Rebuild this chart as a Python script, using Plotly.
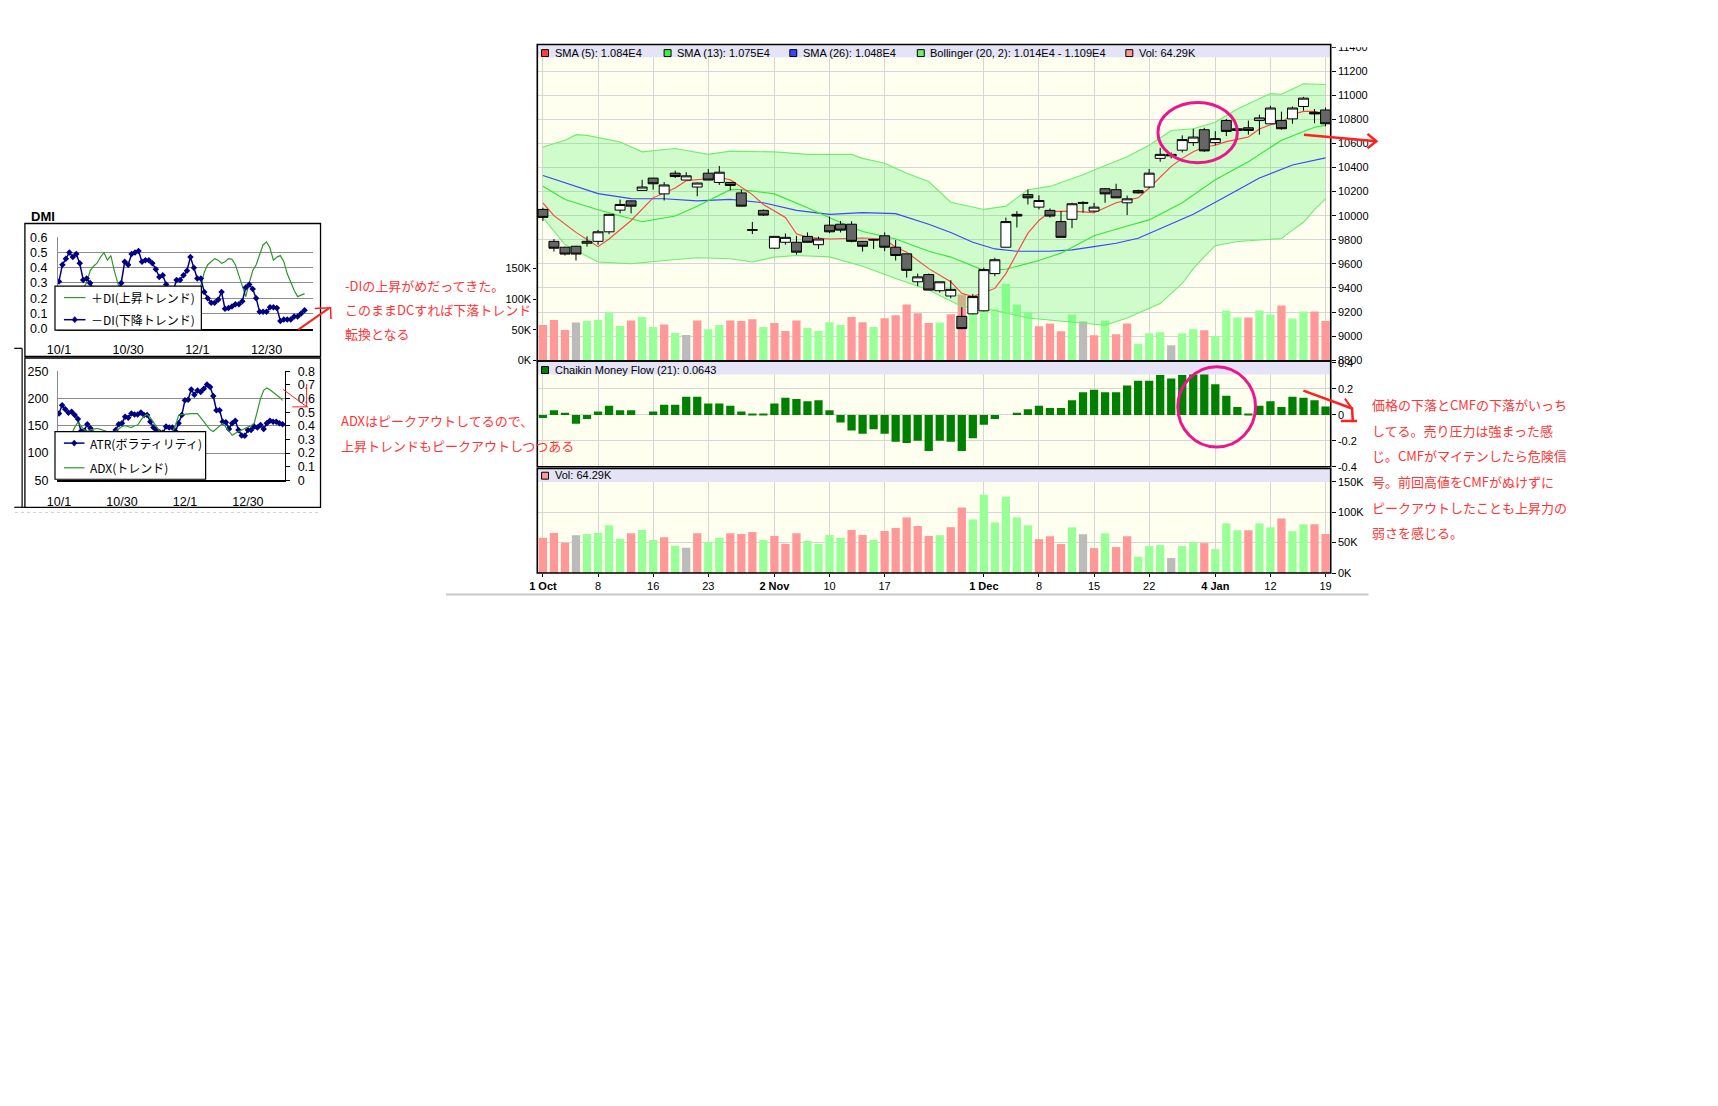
import plotly.graph_objects as go

W, H = 1718, 1106


def px(x):
    return x / W


def py(y):
    return 1 - y / H


# ---------------- data ----------------
dates = ["2009-10-01", "2009-10-02", "2009-10-05", "2009-10-06", "2009-10-07", "2009-10-08", "2009-10-09",
         "2009-10-13", "2009-10-14", "2009-10-15", "2009-10-16", "2009-10-19", "2009-10-20", "2009-10-21",
         "2009-10-22", "2009-10-23", "2009-10-26", "2009-10-27", "2009-10-28", "2009-10-29", "2009-10-30",
         "2009-11-02", "2009-11-04", "2009-11-05", "2009-11-06", "2009-11-09", "2009-11-10", "2009-11-11",
         "2009-11-12", "2009-11-13", "2009-11-16", "2009-11-17", "2009-11-18", "2009-11-19", "2009-11-20",
         "2009-11-24", "2009-11-25", "2009-11-26", "2009-11-27", "2009-11-30",
         "2009-12-01", "2009-12-02", "2009-12-03", "2009-12-04", "2009-12-07", "2009-12-08", "2009-12-09",
         "2009-12-10", "2009-12-11", "2009-12-14", "2009-12-15", "2009-12-16", "2009-12-17", "2009-12-18",
         "2009-12-21", "2009-12-22", "2009-12-24", "2009-12-25", "2009-12-28", "2009-12-29", "2009-12-30",
         "2010-01-04", "2010-01-05", "2010-01-06", "2010-01-07", "2010-01-08", "2010-01-12", "2010-01-13",
         "2010-01-14", "2010-01-15", "2010-01-18", "2010-01-19"]

opens = [10052, 9787, 9738, 9746, 9771, 9787, 9866, 10046, 10123, 10210,
         10312, 10181, 10353, 10296, 10238, 10353, 10276, 10276, 10189, 9884,
         10044, 9730, 9779, 9779, 9828, 9759, 9921, 9929, 9929, 9787,
         9802, 9833, 9738, 9683, 9451, 9511, 9377, 9333, 9164, 9185,
         9210, 9519, 9738, 10011, 10175, 10071, 10044, 9951, 9970, 10110,
         10038, 10224, 10216, 10107, 10208, 10238, 10476, 10509, 10544, 10607,
         10714, 10607, 10790, 10722, 10730, 10790, 10763, 10790, 10804, 10907,
         10858, 10878]
highs = [10066, 9806, 9743, 9750, 9828, 9882, 10011, 10134, 10125, 10298,
         10314, 10279, 10374, 10361, 10275, 10388, 10413, 10278, 10216, 9948,
         10052, 9828, 9853, 9833, 9861, 9825, 9992, 9956, 9954, 9790,
         9806, 9861, 9798, 9683, 9519, 9519, 9451, 9464, 9240, 9349,
         9568, 9650, 9984, 10038, 10216, 10169, 10060, 10038, 10107, 10120,
         10107, 10230, 10265, 10167, 10216, 10388, 10563, 10525, 10667, 10722,
         10730, 10702, 10804, 10730, 10790, 10839, 10913, 10864, 10907, 10987,
         10886, 10899]
lows = [9956, 9702, 9669, 9628, 9743, 9760, 9847, 10019, 10019, 10210,
        10216, 10126, 10312, 10296, 10161, 10296, 10255, 10210, 10077, 9847,
        9997, 9722, 9759, 9677, 9779, 9724, 9855, 9861, 9779, 9702,
        9724, 9705, 9628, 9486, 9415, 9382, 9361, 9314, 9058, 9180,
        9205, 9497, 9738, 9902, 10093, 10052, 9984, 9820, 9896, 10025,
        10030, 10107, 10148, 10005, 10184, 10230, 10448, 10476, 10525, 10579,
        10530, 10585, 10661, 10700, 10673, 10673, 10763, 10714, 10763, 10872,
        10768, 10743]
closes = [9986, 9730, 9681, 9681, 9787, 9866, 10011, 10093, 10079, 10238,
          10265, 10255, 10325, 10331, 10271, 10296, 10361, 10251, 10079, 9880,
          10005, 9828, 9820, 9697, 9779, 9806, 9866, 9880, 9787, 9746,
          9798, 9738, 9669, 9546, 9492, 9382, 9451, 9388, 9062, 9328,
          9552, 9634, 9951, 9997, 10148, 10126, 9997, 9820, 10099, 10104,
          10071, 10181, 10148, 10140, 10189, 10353, 10509, 10497, 10632, 10653,
          10538, 10640, 10700, 10708, 10708, 10812, 10894, 10722, 10894, 10976,
          10845, 10763]

volume_k = [57.8, 65.9, 49.7, 62.2, 64.3, 65.9, 78.4, 56.2, 65.4, 70.8,
            54.5, 58.9, 44.8, 41.5, 65.4, 50.8, 57.8, 65.4, 64.3, 67.5,
            54.5, 61.0, 48.0, 65.4, 52.9, 48.0, 62.6, 57.8, 70.8, 62.6,
            54.5, 69.1, 74.0, 91.4, 77.3, 61.0, 62.2, 75.4, 107.6, 88.1,
            128.7, 83.3, 125.5, 91.4, 78.4, 55.7, 60.5, 47.6, 75.1, 63.8,
            41.0, 65.4, 42.7, 60.5, 26.9, 44.3, 45.9, 24.8, 44.3, 50.8,
            49.2, 39.4, 81.6, 70.3, 70.3, 81.6, 75.1, 89.8, 68.7, 80.0,
            80.0, 64.29]
# u = up day, d = down day, f = unchanged
volume_dir = list("dddfuuuuduuduf" "duuddd" "udddu" "uuudduddddd" "uddu" "uuuuu" "dddufdudduuufuudu"
                  "uuduudu" "udd")

cmf = [-0.024, 0.035, 0.017, -0.067, -0.032, 0.026, 0.070, 0.035, 0.035, 0.0,
       0.026, 0.078, 0.078, 0.140, 0.140, 0.088, 0.088, 0.070, 0.026, 0.008,
       0.008, 0.088, 0.131, 0.123, 0.105, 0.113, 0.035, -0.059, -0.119, -0.145,
       -0.110, -0.145, -0.207, -0.215, -0.198, -0.277, -0.198, -0.207, -0.277, -0.180,
       -0.075, -0.032, 0.0, 0.017, 0.043, 0.070, 0.053, 0.053, 0.113, 0.175,
       0.193, 0.175, 0.175, 0.227, 0.262, 0.262, 0.306, 0.279, 0.306, 0.384,
       0.314, 0.236, 0.148, 0.061, 0.008, 0.070, 0.105, 0.061, 0.140, 0.131,
       0.113, 0.0643]

sma5_idx = [0, 1, 3, 5, 6, 8, 10, 12, 13, 16, 17, 19, 20, 22, 23, 24, 26, 29, 31, 32,
            33, 35, 37, 38, 39, 41, 42, 44, 45, 46, 48, 50, 52, 54, 55, 56, 57, 58, 59, 60,
            61, 62, 64, 65, 66, 67, 68, 69, 70, 71]
sma5_val = [10107, 10000, 9861, 9743, 9806, 9960, 10148, 10230, 10290, 10317, 10298, 10175, 10093, 9985, 9850,
            9820, 9806, 9815, 9806, 9738, 9697, 9560, 9451, 9355, 9328, 9396, 9519, 9855, 9960, 10035,
            10038, 10025, 10107, 10148, 10230, 10320, 10410, 10476, 10530, 10570, 10585, 10615, 10653, 10720,
            10755, 10776, 10840, 10866, 10866, 10840]
sma13_idx = [0, 2, 5, 9, 12, 14, 17, 18, 21, 24, 27, 29, 32, 35, 37, 39, 40, 42, 45, 47,
             50, 53, 55, 58, 61, 64, 67, 70, 71]
sma13_val = [10245, 10134, 10050, 9950, 9997, 10079, 10216, 10216, 10181, 10066, 9943, 9869, 9806, 9705,
             9656, 9587, 9546, 9555, 9628, 9689, 9833, 9915, 9965, 10107, 10298, 10448, 10626, 10735, 10750]
sma26_idx = [0, 2, 5, 8, 11, 14, 17, 20, 23, 26, 29, 32, 35, 37, 39, 41, 43, 46, 48, 50,
             52, 54, 56, 59, 62, 65, 68, 71]
sma26_val = [10333, 10271, 10183, 10142, 10140, 10123, 10135, 10107, 10044, 10011, 10025, 10017, 9929, 9861,
             9779, 9724, 9705, 9705, 9716, 9743, 9771, 9812, 9890, 10011, 10161, 10312, 10421, 10480]
bb_up_idx = [0, 2, 3, 4, 7, 9, 12, 15, 17, 21, 24, 28, 29, 31, 32, 33, 35, 37, 40, 42,
             44, 46, 49, 50, 53, 55, 57, 59, 61, 63, 66, 67, 69, 71]
bb_up_val = [10571, 10626, 10673, 10667, 10612, 10530, 10558, 10509, 10536, 10530, 10509, 10509, 10476,
             10435, 10394, 10353, 10284, 10112, 10052, 10079, 10216, 10243, 10339, 10380, 10489, 10585,
             10708, 10722, 10776, 10886, 11014, 11009, 11096, 11090]
bb_lo_idx = [0, 2, 5, 8, 11, 14, 17, 19, 21, 23, 26, 29, 32, 35, 38, 41, 44, 47, 51, 53,
             56, 58, 59, 60, 61, 63, 65, 67, 68, 69, 70, 71]
bb_lo_val = [9984, 9760, 9615, 9601, 9628, 9650, 9642, 9615, 9656, 9669, 9658, 9580, 9478, 9382, 9246,
             9213, 9150, 9123, 9090, 9150, 9270, 9437, 9560, 9660, 9751, 9785, 9800, 9810, 9880, 9945,
             10050, 10140]

tick_idx = [0, 5, 10, 15, 21, 26, 31, 40, 45, 50, 55, 61, 66, 71]
tick_text = ["<b>1 Oct</b>", "8", "16", "23", "<b>2 Nov</b>", "10", "17", "<b>1 Dec</b>", "8", "15", "22",
             "<b>4 Jan</b>", "12", "19"]
price_ticks = [8800, 9000, 9200, 9400, 9600, 9800, 10000, 10200, 10400, 10600, 10800, 11000, 11200, 11400]
vol_ticks = [0, 50, 100, 150]
cmf_ticks = [-0.4, -0.2, 0, 0.2, 0.4]

# DMI / ATR / ADX small charts (pasted spreadsheet charts)
dmi_ticks = [0, 20, 40, 60]
dmi_tick_text = ["10/1", "10/30", "12/1", "12/30"]
plus_di = [0.20, 0.18, 0.15, 0.14, 0.16, 0.18, 0.22, 0.27, 0.30, 0.38,
           0.41, 0.43, 0.47, 0.50, 0.45, 0.48, 0.38, 0.29, 0.22, 0.18,
           0.16, 0.14, 0.12, 0.11, 0.12, 0.13, 0.15, 0.17, 0.20, 0.22,
           0.24, 0.26, 0.22, 0.20, 0.18, 0.17, 0.15, 0.14, 0.16, 0.20,
           0.24, 0.28, 0.37, 0.42, 0.44, 0.46, 0.45, 0.43, 0.44, 0.46,
           0.455, 0.42, 0.35, 0.28, 0.21, 0.30, 0.38, 0.42, 0.48, 0.55,
           0.57, 0.53, 0.45, 0.47, 0.48, 0.44, 0.36, 0.30, 0.25, 0.21,
           0.22, 0.23]
minus_di = [0.31, 0.42, 0.46, 0.50, 0.47, 0.49, 0.43, 0.32, 0.33, 0.30,
            0.26, 0.24, 0.22, 0.20, 0.21, 0.19, 0.22, 0.25, 0.30, 0.44,
            0.42, 0.49, 0.50, 0.51, 0.44, 0.45, 0.45, 0.43, 0.39, 0.34,
            0.35, 0.29, 0.26, 0.25, 0.32, 0.32, 0.35, 0.38, 0.47, 0.40,
            0.33, 0.33, 0.24, 0.20, 0.17, 0.17, 0.19, 0.24, 0.13, 0.135,
            0.145, 0.16, 0.16, 0.18, 0.27, 0.29, 0.26, 0.20, 0.11, 0.11,
            0.11, 0.14, 0.14, 0.135, 0.05, 0.06, 0.06, 0.06, 0.08, 0.08,
            0.10, 0.12]
atr = [172.6, 187.8, 180.5, 174.0, 175.7, 169.6, 162.4, 140.0, 141.0, 152.7,
       145.5, 136.0, 132.0, 130.0, 128.0, 127.0, 130.0, 135.0, 142.4, 152.7,
       154.5, 166.6, 164.8, 172.6, 170.8, 170.8, 174.5, 169.6, 169.6, 157.5,
       146.7, 142.4, 138.0, 137.0, 148.5, 146.7, 146.7, 140.0, 154.5, 169.6,
       196.8, 198.0, 216.8, 207.1, 215.0, 212.0, 218.0, 225.8, 221.0, 204.7,
       178.7, 178.7, 157.5, 156.3, 144.3, 154.5, 159.4, 142.4, 132.2, 131.6,
       142.4, 142.4, 148.5, 146.7, 151.5, 144.3, 154.5, 159.4, 157.5, 157.5,
       154.5, 153.0]
adx = [0.32, 0.31, 0.30, 0.31, 0.34, 0.39, 0.425, 0.40, 0.37, 0.358,
       0.37, 0.375, 0.38, 0.375, 0.37, 0.36, 0.35, 0.34, 0.36, 0.38,
       0.394, 0.40, 0.395, 0.387, 0.40, 0.406, 0.442, 0.47, 0.483, 0.46,
       0.425, 0.39, 0.36, 0.34, 0.33, 0.34, 0.358, 0.40, 0.478, 0.482,
       0.485, 0.49, 0.49, 0.49, 0.49, 0.46, 0.43, 0.40, 0.37, 0.358,
       0.38, 0.40, 0.418, 0.39, 0.36, 0.33, 0.345, 0.358, 0.37, 0.38,
       0.39, 0.40, 0.418, 0.52, 0.60, 0.66, 0.677, 0.665, 0.648, 0.63,
       0.61, 0.587]
dmi_yticks = [0.0, 0.1, 0.2, 0.3, 0.4, 0.5, 0.6]
atr_yticks = [50, 100, 150, 200, 250]
adx_yticks = [0, 0.1, 0.2, 0.3, 0.4, 0.5, 0.6, 0.7, 0.8]

note_dmi = ["-DIの上昇がめだってきた。", "このままDCすれば下落トレンド", "転換となる"]
note_adx = ["ADXはピークアウトしてるので、", "上昇トレンドもピークアウトしつつある"]
note_cmf = ["価格の下落とCMFの下落がいっち", "してる。売り圧力は強まった感", "じ。CMFがマイテンしたら危険信",
            "号。前回高値をCMFがぬけずに", "ピークアウトしたことも上昇力の", "弱さを感じる。"]

# ---------------- figure ----------------
xs = list(range(len(dates)))
n = len(dates)
vcol = {"u": "#99FF99", "d": "#FF9999", "f": "#BBBBBB"}
vol_colors = [vcol[d] for d in volume_dir[:n]]

FONT = "Liberation Sans, Arial, sans-serif"
JFONT = "Noto Sans CJK JP, sans-serif"
GRID = "#D6D6D6"

fig = go.Figure()

# price panel: volume (base axis y), indicators on overlay y2, candles on overlay y8 (topmost)
fig.add_trace(go.Bar(x=xs, y=volume_k, width=0.75, marker=dict(color=vol_colors, line=dict(width=0)),
                     xaxis="x", yaxis="y", hoverinfo="skip"))
fig.add_trace(go.Scatter(x=bb_up_idx + bb_lo_idx[::-1], y=bb_up_val + bb_lo_val[::-1], fill="toself",
                         fillcolor="rgba(80,240,100,0.27)", mode="none", xaxis="x", yaxis="y2",
                         hoverinfo="skip"))
fig.add_trace(go.Scatter(x=bb_up_idx, y=bb_up_val, mode="lines", line=dict(color="#70EC70", width=1.1),
                         xaxis="x", yaxis="y2", hoverinfo="skip"))
fig.add_trace(go.Scatter(x=bb_lo_idx, y=bb_lo_val, mode="lines", line=dict(color="#70EC70", width=1.1),
                         xaxis="x", yaxis="y2", hoverinfo="skip"))
fig.add_trace(go.Scatter(x=sma26_idx, y=sma26_val, mode="lines", line=dict(color="#3A46FF", width=1.1),
                         xaxis="x", yaxis="y2", hoverinfo="skip"))
fig.add_trace(go.Scatter(x=sma13_idx, y=sma13_val, mode="lines", line=dict(color="#36E636", width=1.1),
                         xaxis="x", yaxis="y2", hoverinfo="skip"))
fig.add_trace(go.Scatter(x=sma5_idx, y=sma5_val, mode="lines", line=dict(color="#FF4040", width=1.1),
                         xaxis="x", yaxis="y2", hoverinfo="skip"))
fig.add_trace(go.Candlestick(x=xs, open=opens, high=highs, low=lows, close=closes,
                             increasing=dict(line=dict(color="black", width=1), fillcolor="white"),
                             decreasing=dict(line=dict(color="black", width=1), fillcolor="#666666"),
                             whiskerwidth=0, xaxis="x", yaxis="y8", hoverinfo="skip"))
# CMF panel
fig.add_trace(go.Bar(x=xs, y=cmf, width=0.75, marker=dict(color="#008000", line=dict(width=0)),
                     xaxis="x2", yaxis="y3", hoverinfo="skip"))
# volume panel
fig.add_trace(go.Bar(x=xs, y=volume_k, width=0.75, marker=dict(color=vol_colors, line=dict(width=0)),
                     xaxis="x3", yaxis="y4", hoverinfo="skip"))
# DMI chart
fig.add_trace(go.Scatter(x=xs, y=plus_di, mode="lines", line=dict(color="#2E962E", width=1.2),
                         xaxis="x4", yaxis="y5", hoverinfo="skip"))
fig.add_trace(go.Scatter(x=xs, y=minus_di, mode="lines+markers", line=dict(color="#000080", width=1.5),
                         marker=dict(symbol="diamond", size=5, color="#000080"),
                         xaxis="x4", yaxis="y5", hoverinfo="skip"))
# ATR / ADX chart
fig.add_trace(go.Scatter(x=xs, y=atr, mode="lines+markers", line=dict(color="#000080", width=1.5),
                         marker=dict(symbol="diamond", size=5, color="#000080"),
                         xaxis="x5", yaxis="y6", hoverinfo="skip"))
fig.add_trace(go.Scatter(x=xs, y=adx, mode="lines", line=dict(color="#2E962E", width=1.2),
                         xaxis="x5", yaxis="y7", hoverinfo="skip"))

# ---------------- axes ----------------
XDOM = [px(530), px(1329)]
XR = [-0.51, 71.47]
P_DOM = [py(358), py(38)]
C_DOM = [py(466), py(359)]
V_DOM = [py(573.3), py(467.3)]
PRICE_RANGE = [8797.5, 11421.5]

tickfont = dict(family=FONT, size=11, color="black")


def main_x(anchor, labels):
    d = dict(domain=XDOM, range=XR, anchor=anchor, tickvals=tick_idx, showgrid=True, gridcolor=GRID,
             gridwidth=1, zeroline=False, showline=False, rangeslider=dict(visible=False))
    if labels:
        d.update(ticktext=tick_text, ticks="outside", ticklen=3, tickcolor="black", tickfont=tickfont)
    else:
        d.update(showticklabels=False, ticks="")
    return d


layout_axes = dict(
    xaxis=main_x("y", False),
    xaxis2=main_x("y3", False),
    xaxis3=main_x("y4", True),
    yaxis=dict(domain=P_DOM, range=[0, 516], side="left", anchor="x", tickvals=vol_ticks,
               ticktext=[f"{v}K" for v in vol_ticks], ticks="outside", ticklen=3, tickcolor="black",
               showgrid=False, zeroline=False, tickfont=tickfont),
    yaxis2=dict(overlaying="y", side="right", anchor="x", range=PRICE_RANGE, tickvals=price_ticks,
                ticktext=[str(v) for v in price_ticks], ticks="outside", ticklen=4, tickcolor="black",
                showgrid=True, gridcolor=GRID, zeroline=False, tickfont=tickfont),
    yaxis8=dict(overlaying="y", side="right", anchor="x", range=PRICE_RANGE, visible=False,
                showgrid=False, zeroline=False),
    yaxis3=dict(domain=C_DOM, range=[-0.401, 0.4108], side="right", anchor="x2", tickvals=cmf_ticks,
                ticktext=["-0.4", "-0.2", "0", "0.2", "0.4"], ticks="outside", ticklen=4, tickcolor="black",
                showgrid=True, gridcolor=GRID, zeroline=False, tickfont=tickfont),
    yaxis4=dict(domain=V_DOM, range=[0, 172], side="right", anchor="x3", tickvals=vol_ticks,
                ticktext=[f"{v}K" for v in vol_ticks], ticks="outside", ticklen=4, tickcolor="black",
                showgrid=True, gridcolor=GRID, zeroline=False, tickfont=tickfont),
)

sfont = dict(family=FONT, size=12.5, color="black")
layout_axes.update(
    xaxis4=dict(domain=[px(47.3), px(304)], range=[-0.29, 73.4], anchor="y5", tickvals=dmi_ticks,
                ticktext=dmi_tick_text, showline=True, linecolor="black", linewidth=1.5, ticks="outside",
                ticklen=9, tickcolor="rgba(0,0,0,0)", showgrid=False, zeroline=False, tickfont=sfont),
    yaxis5=dict(domain=[py(325.7), py(233.3)], range=[0, 0.6], anchor="x4", tickvals=dmi_yticks,
                ticktext=[f"{v:.1f}" for v in dmi_yticks], showgrid=True, gridcolor="#8C8C8C",
                showline=True, linecolor="#8C8C8C", ticks="outside", ticklen=7,
                tickcolor="rgba(0,0,0,0)", zeroline=False, tickfont=sfont),
    xaxis5=dict(domain=[px(47.3), px(276)], range=[-0.32, 71.8], anchor="y6", tickvals=dmi_ticks,
                ticktext=dmi_tick_text, showline=True, linecolor="black", linewidth=1.5, ticks="outside",
                ticklen=9, tickcolor="rgba(0,0,0,0)", showgrid=False, zeroline=False, tickfont=sfont),
    yaxis6=dict(domain=[py(479.3), py(369)], range=[50, 250], anchor="x5", tickvals=atr_yticks,
                showgrid=True, gridcolor="#8C8C8C", showline=True, linecolor="#8C8C8C", ticks="outside",
                ticklen=6, tickcolor="rgba(0,0,0,0)", zeroline=False, tickfont=sfont),
    yaxis7=dict(overlaying="y6", side="right", anchor="x5", range=[0, 0.8], tickvals=adx_yticks,
                ticktext=["0" if v == 0 else f"{v:.1f}" for v in adx_yticks], showgrid=False,
                showline=True, linecolor="black", linewidth=1.2, ticks="outside", ticklen=4,
                tickcolor="black", ticklabelstandoff=5, zeroline=False, tickfont=sfont),
)

# ---------------- shapes ----------------
shapes = []


def rect(x0, y0, x1, y1, fill=None, line=None, lw=1.0, layer="above"):
    shapes.append(dict(type="rect", xref="paper", yref="paper", x0=px(x0), x1=px(x1), y0=py(y1), y1=py(y0),
                       fillcolor=fill if fill else "rgba(0,0,0,0)",
                       line=dict(color=line if line else "rgba(0,0,0,0)", width=lw if line else 0),
                       layer=layer))


def seg(x0, y0, x1, y1, color="black", lw=1.0, dash="solid"):
    shapes.append(dict(type="line", xref="paper", yref="paper", x0=px(x0), x1=px(x1), y0=py(y0), y1=py(y1),
                       line=dict(color=color, width=lw, dash=dash), layer="above"))


def poly(points, color, lw=1.0, fill=None, closed=False):
    p = "M " + " L ".join(f"{px(x):.6f},{py(y):.6f}" for x, y in points)
    if closed:
        p += " Z"
    shapes.append(dict(type="path", xref="paper", yref="paper", path=p,
                       line=dict(color=color, width=lw), fillcolor=fill if fill else "rgba(0,0,0,0)",
                       layer="above"))


def ellipse(x0, y0, x1, y1, color, lw):
    shapes.append(dict(type="circle", xref="paper", yref="paper", x0=px(x0), x1=px(x1), y0=py(y1), y1=py(y0),
                       line=dict(color=color, width=lw), layer="above"))


def diamond(cx, cy, r=3.2):
    poly([(cx, cy - r), (cx + r * 0.85, cy), (cx, cy + r), (cx - r * 0.85, cy)], "#000080", 0.5,
         fill="#000080", closed=True)


# ivory plot backgrounds (below grid)
for (y0, y1) in [(38, 358), (359, 466), (467, 573.3)]:
    rect(530, y0, 1329, y1, fill="#FFFFF0", layer="below")
# header bands
for (y0, y1) in [(38.5, 51), (359.5, 372.3), (468, 481)]:
    rect(531, y0, 1328.5, y1, fill="#E4E4F6")
# the topmost right label is cut by the picture edge
rect(1331, 20, 1400, 40.8, fill="white")
# panel frames
rect(530, 38, 1329, 358.6, line="black", lw=1.6)
rect(530, 358.6, 1329, 465.6, line="black", lw=1.6)
rect(530, 467.4, 1329, 573.3, line="black", lw=1.6)
# gray rule under the chart
seg(438, 595, 1367, 595, color="#C8C8C8", lw=2)

# header legend keys
leg_items = [
    (534.3, "#FF4040", f"SMA (5): {sma5_val[-1] / 1e4:.3f}E4"),
    (657.7, "#44EE44", f"SMA (13): {sma13_val[-1] / 1e4:.3f}E4"),
    (784.3, "#3A46FF", f"SMA (26): {sma26_val[-1] / 1e4:.3f}E4"),
    (912.7, "#70EC70", f"Bollinger (20, 2): {bb_lo_val[-1] / 1e4:.3f}E4 - {bb_up_val[-1] / 1e4:.3f}E4"),
    (1122.7, "#FF9999", f"Vol: {volume_k[-1]:.2f}K"),
]
annotations = []


def txt(x, y, s, size=11, color="black", family=FONT, xanchor="left"):
    annotations.append(dict(x=px(x), y=py(y), xref="paper", yref="paper", text=s, showarrow=False,
                            xanchor=xanchor, yanchor="middle", borderpad=0,
                            font=dict(family=family, size=size, color=color)))


for x0, col, label in leg_items:
    rect(x0, 43.2, x0 + 7, 50.2, fill=col, line="black", lw=1)
    txt(x0 + 12.2, 46.5, label)
rect(534.3, 364.2, 541.3, 371.2, fill="#008000", line="black", lw=1)
txt(546.5, 367.3, f"Chaikin Money Flow (21): {cmf[-1]:.4f}")
rect(534.3, 471.2, 541.3, 478.2, fill="#FF9999", line="black", lw=1)
txt(546.5, 474.5, f"Vol: {volume_k[-1]:.2f}K")

# magenta circles
ellipse(1155, 96.7, 1235, 157.7, "#EE158C", 3)
ellipse(1175, 364.3, 1253.3, 445.7, "#EE158C", 3)

# red arrows on the main chart
RED = "#FF2020"
poly([(1302, 129.3), (1375, 136)], RED, 2.5)
poly([(1366, 128.5), (1375, 136), (1366, 143)], RED, 2.5)
poly([(1301.5, 388.6), (1350.5, 406.6), (1351.3, 420.5)], RED, 2.5)
poly([(1343.3, 396.7), (1350.2, 406.5)], RED, 2)
poly([(1339.3, 419.3), (1355.5, 419.3)], RED, 2.5)

# left spreadsheet charts: frames
rect(14, 219.3, 311.7, 354, line="black", lw=1.3)
rect(14, 355.5, 311.7, 506.7, line="black", lw=1.3)
seg(3.3, 345.7, 11.2, 345.7, lw=1.2)
seg(11.2, 345.7, 11.2, 506.7, lw=1.2)
seg(3.3, 506.7, 14, 506.7, lw=1.2)
seg(4, 512, 311, 512, color="#D2D2D2", lw=1.2, dash="dot")

# DMI legend
rect(44.3, 282.7, 191.7, 327.3, fill="white", line="black", lw=1.2)
seg(53.3, 294.3, 75, 294.3, color="#2E962E", lw=1.2)
seg(53.3, 316.7, 75, 316.7, color="#000080", lw=1.5)
diamond(64.2, 316.7)
txt(79.5, 294.5, "＋DI(上昇トレンド)", size=12, family=JFONT)
txt(79.5, 316.9, "－DI(下降トレンド)", size=12, family=JFONT)
txt(19, 211.7, "<b>DMI</b>", size=13)

# ATR legend
rect(44.3, 430, 196, 478.3, fill="white", line="black", lw=1.2)
seg(53.3, 441.7, 74, 441.7, color="#000080", lw=1.5)
diamond(63.7, 441.7)
seg(53.3, 466.7, 74, 466.7, color="#2E962E", lw=1.2)
txt(78.3, 441.9, "ATR(ボラティリティ)", size=12, family=JFONT)
txt(78.3, 466.9, "ADX(トレンド)", size=12, family=JFONT)

# red hand marks on the left charts
poly([(289.3, 326.7), (320, 305.3)], RED, 2)
poly([(306, 305.3), (321.8, 304.6), (322.2, 316)], RED, 1.5)
poly([(274, 387.3), (298, 405)], RED, 1)
poly([(297.7, 381.7), (297.7, 405)], RED, 1)
poly([(283.3, 405), (299, 405)], RED, 1)

# red notes
NOTE = "#FF3535"
for i, s in enumerate(note_dmi):
    txt(335, 281.7 + 24.7 * i, s, size=13, color=NOTE, family=JFONT)
for i, s in enumerate(note_adx):
    txt(331.7, 419.3 + 25 * i, s, size=13, color=NOTE, family=JFONT)
for i, s in enumerate(note_cmf):
    txt(1370, 402.7 + 26 * i, s, size=13, color=NOTE, family=JFONT)

fig.update_layout(
    width=W, height=H, margin=dict(l=0, r=0, t=0, b=0), autosize=False,
    paper_bgcolor="white", plot_bgcolor="white", showlegend=False,
    font=dict(family=FONT, size=11, color="black"),
    boxgap=0.1, boxgroupgap=0, hovermode=False,
    shapes=shapes, annotations=annotations,
    **layout_axes,
)

fig.write_html(
    "out.html",
    config={"displayModeBar": False},
    post_script=("document.documentElement.style.margin='0';document.body.style.margin='0';"
                 "document.body.style.padding='0';document.documentElement.style.overflow='hidden';"
                 "document.body.style.overflow='hidden';"),
)
